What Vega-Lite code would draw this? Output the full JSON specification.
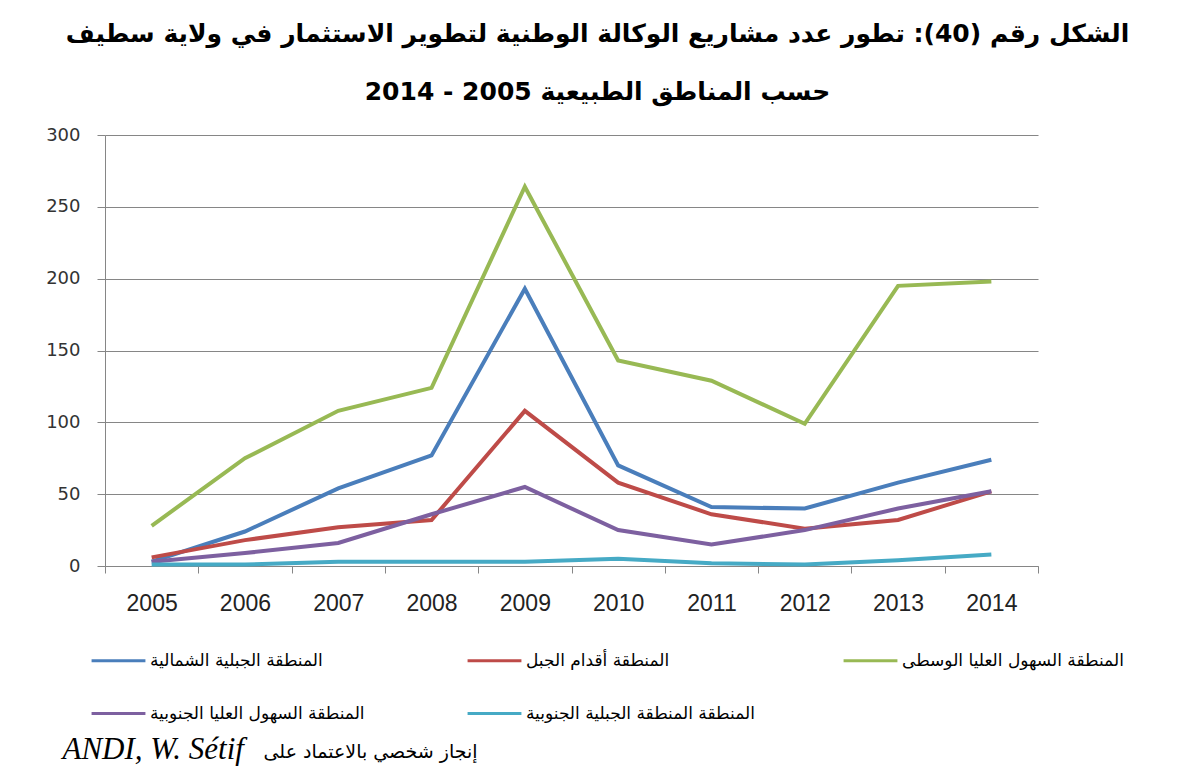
{
  "$schema": "https://vega.github.io/schema/vega-lite/v6.json",
  "width": 933,
  "height": 431,
  "autosize": {"type": "none"},
  "padding": {"left": 105, "top": 135, "right": 139, "bottom": 207},
  "background": "white",
  "title": {
    "text": ["الشكل رقم (40): تطور عدد مشاريع الوكالة الوطنية لتطوير الاستثمار في ولاية سطيف", "حسب المناطق الطبيعية 2005 - 2014"],
    "font": "DejaVu Sans",
    "fontSize": 25,
    "fontWeight": "bold",
    "color": "black",
    "anchor": "middle",
    "lineHeight": 58,
    "dx": 26,
    "offset": 21
  },
  "data": {
    "values": [
      {"region": "المنطقة الجبلية الشمالية", "year": "2005", "value": 3},
      {"region": "المنطقة الجبلية الشمالية", "year": "2006", "value": 24},
      {"region": "المنطقة الجبلية الشمالية", "year": "2007", "value": 54},
      {"region": "المنطقة الجبلية الشمالية", "year": "2008", "value": 77},
      {"region": "المنطقة الجبلية الشمالية", "year": "2009", "value": 193},
      {"region": "المنطقة الجبلية الشمالية", "year": "2010", "value": 70},
      {"region": "المنطقة الجبلية الشمالية", "year": "2011", "value": 41},
      {"region": "المنطقة الجبلية الشمالية", "year": "2012", "value": 40},
      {"region": "المنطقة الجبلية الشمالية", "year": "2013", "value": 58},
      {"region": "المنطقة الجبلية الشمالية", "year": "2014", "value": 74},
      {"region": "المنطقة أقدام الجبل", "year": "2005", "value": 6},
      {"region": "المنطقة أقدام الجبل", "year": "2006", "value": 18},
      {"region": "المنطقة أقدام الجبل", "year": "2007", "value": 27},
      {"region": "المنطقة أقدام الجبل", "year": "2008", "value": 32},
      {"region": "المنطقة أقدام الجبل", "year": "2009", "value": 108},
      {"region": "المنطقة أقدام الجبل", "year": "2010", "value": 58},
      {"region": "المنطقة أقدام الجبل", "year": "2011", "value": 36},
      {"region": "المنطقة أقدام الجبل", "year": "2012", "value": 26},
      {"region": "المنطقة أقدام الجبل", "year": "2013", "value": 32},
      {"region": "المنطقة أقدام الجبل", "year": "2014", "value": 52},
      {"region": "المنطقة السهول العليا الوسطى", "year": "2005", "value": 28},
      {"region": "المنطقة السهول العليا الوسطى", "year": "2006", "value": 75},
      {"region": "المنطقة السهول العليا الوسطى", "year": "2007", "value": 108},
      {"region": "المنطقة السهول العليا الوسطى", "year": "2008", "value": 124},
      {"region": "المنطقة السهول العليا الوسطى", "year": "2009", "value": 264},
      {"region": "المنطقة السهول العليا الوسطى", "year": "2010", "value": 143},
      {"region": "المنطقة السهول العليا الوسطى", "year": "2011", "value": 129},
      {"region": "المنطقة السهول العليا الوسطى", "year": "2012", "value": 99},
      {"region": "المنطقة السهول العليا الوسطى", "year": "2013", "value": 195},
      {"region": "المنطقة السهول العليا الوسطى", "year": "2014", "value": 198},
      {"region": "المنطقة السهول العليا الجنوبية", "year": "2005", "value": 3},
      {"region": "المنطقة السهول العليا الجنوبية", "year": "2006", "value": 9},
      {"region": "المنطقة السهول العليا الجنوبية", "year": "2007", "value": 16},
      {"region": "المنطقة السهول العليا الجنوبية", "year": "2008", "value": 36},
      {"region": "المنطقة السهول العليا الجنوبية", "year": "2009", "value": 55},
      {"region": "المنطقة السهول العليا الجنوبية", "year": "2010", "value": 25},
      {"region": "المنطقة السهول العليا الجنوبية", "year": "2011", "value": 15},
      {"region": "المنطقة السهول العليا الجنوبية", "year": "2012", "value": 25},
      {"region": "المنطقة السهول العليا الجنوبية", "year": "2013", "value": 40},
      {"region": "المنطقة السهول العليا الجنوبية", "year": "2014", "value": 52},
      {"region": "المنطقة المنطقة الجبلية الجنوبية", "year": "2005", "value": 1},
      {"region": "المنطقة المنطقة الجبلية الجنوبية", "year": "2006", "value": 1},
      {"region": "المنطقة المنطقة الجبلية الجنوبية", "year": "2007", "value": 3},
      {"region": "المنطقة المنطقة الجبلية الجنوبية", "year": "2008", "value": 3},
      {"region": "المنطقة المنطقة الجبلية الجنوبية", "year": "2009", "value": 3},
      {"region": "المنطقة المنطقة الجبلية الجنوبية", "year": "2010", "value": 5},
      {"region": "المنطقة المنطقة الجبلية الجنوبية", "year": "2011", "value": 2},
      {"region": "المنطقة المنطقة الجبلية الجنوبية", "year": "2012", "value": 1},
      {"region": "المنطقة المنطقة الجبلية الجنوبية", "year": "2013", "value": 4},
      {"region": "المنطقة المنطقة الجبلية الجنوبية", "year": "2014", "value": 8}
    ]
  },
  "mark": {"type": "line", "strokeWidth": 4, "strokeJoin": "miter"},
  "encoding": {
    "x": {
      "field": "year",
      "type": "ordinal",
      "scale": {"type": "band", "paddingInner": 0, "paddingOuter": 0},
      "axis": {
        "title": "ANDI, W. Sétif",
        "titleFont": "Liberation Serif",
        "titleFontStyle": "italic",
        "titleFontWeight": "normal",
        "titleFontSize": 31,
        "titleColor": "black",
        "titleAlign": "left",
        "titleBaseline": "alphabetic",
        "titleAnchor": null,
        "titleX": -43,
        "titleY": 192,
        "labelAngle": 0,
        "labelFont": "Liberation Sans",
        "labelFontSize": 23,
        "labelColor": "#222222",
        "labelPadding": 19,
        "tickBand": "extent",
        "tickSize": 7,
        "tickColor": "#868686",
        "domainColor": "#868686",
        "grid": false
      }
    },
    "y": {
      "field": "value",
      "type": "quantitative",
      "scale": {"domain": [0, 300], "nice": false},
      "axis": {
        "title": "إنجاز شخصي بالاعتماد على",
        "titleFont": "DejaVu Sans",
        "titleFontSize": 19,
        "titleFontWeight": "normal",
        "titleColor": "black",
        "titleAngle": 0,
        "titleAlign": "left",
        "titleBaseline": "alphabetic",
        "titleAnchor": null,
        "titleX": 158,
        "titleY": 622,
        "values": [0, 50, 100, 150, 200, 250, 300],
        "labelFont": "DejaVu Sans",
        "labelFontSize": 18,
        "labelColor": "#333333",
        "labelPadding": 17,
        "tickSize": 8,
        "tickColor": "#868686",
        "domainColor": "#868686",
        "gridColor": "#868686",
        "gridWidth": 1.2
      }
    },
    "color": {
      "field": "region",
      "type": "nominal",
      "sort": ["المنطقة الجبلية الشمالية", "المنطقة أقدام الجبل", "المنطقة السهول العليا الوسطى", "المنطقة السهول العليا الجنوبية", "المنطقة المنطقة الجبلية الجنوبية"],
      "scale": {
        "domain": ["المنطقة الجبلية الشمالية", "المنطقة أقدام الجبل", "المنطقة السهول العليا الوسطى", "المنطقة السهول العليا الجنوبية", "المنطقة المنطقة الجبلية الجنوبية"],
        "range": ["#4a7ebb", "#be4b48", "#98b954", "#7d60a0", "#46aac5"]
      },
      "legend": {
        "title": null,
        "orient": "none",
        "legendX": -15,
        "legendY": 497,
        "direction": "horizontal",
        "columns": 3,
        "gridAlign": "all",
        "columnPadding": 82,
        "rowPadding": 16,
        "symbolType": "stroke",
        "symbolSize": 2900,
        "symbolStrokeWidth": 3,
        "labelFont": "DejaVu Sans",
        "labelFontSize": 17,
        "labelColor": "black",
        "labelOffset": 3,
        "labelLimit": 400
      }
    }
  },
  "config": {
    "view": {"stroke": null}
  }
}
